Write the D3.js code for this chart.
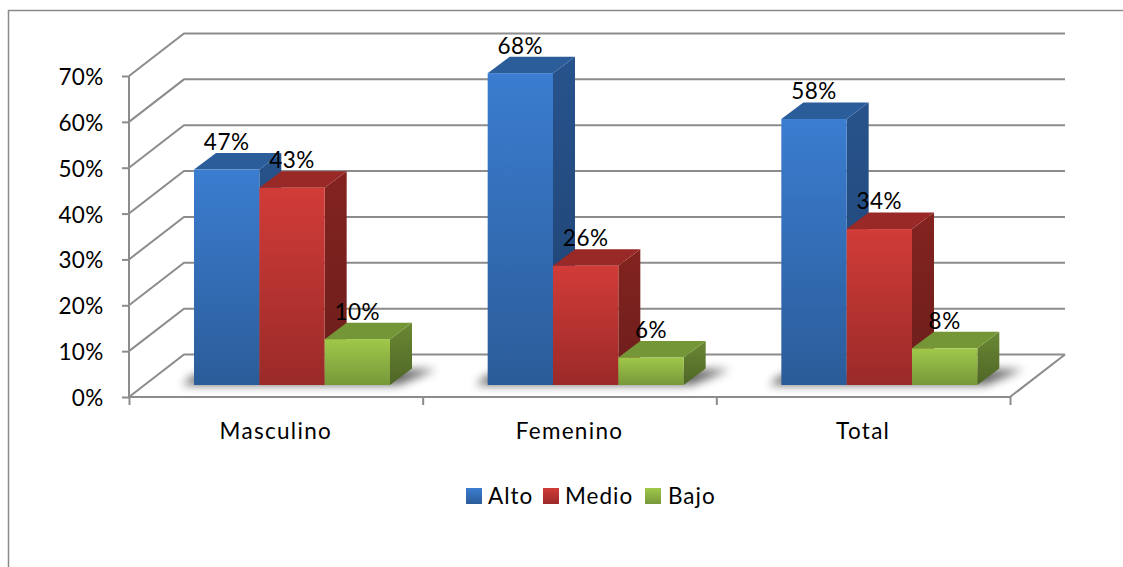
<!DOCTYPE html>
<html><head><meta charset="utf-8">
<script src="https://cdn.jsdelivr.net/npm/d3@7/dist/d3.min.js"></script>
<style>html,body{margin:0;padding:0;background:#fff}svg{display:block}text{font-family:Lato,"Open Sans",sans-serif;fill:#000}</style>
</head><body><svg id="c" width="1123" height="567"></svg>
<script>
const categories = ["Masculino","Femenino","Total"];
const seriesNames = ["Alto","Medio","Bajo"];
const alto = [47,68,58];
const medio = [43,26,34];
const bajo = [10,6,8];
const yTicks = [0,10,20,30,40,50,60,70];

const W=1123,H=567;
const svg=d3.select("#c");
const FS=22.5;
const grid="#8c8c8c";
const defs=svg.append("defs");
const palette=[
 {front:["#3b7dd0","#2b5c99"],top:"#2c5d9b",side:["#27538c","#1f4271"]},
 {front:["#d13c38","#9a2a28"],top:"#982927",side:["#83231f","#6b1e1c"]},
 {front:["#9fc84a","#78983a"],top:"#759637",side:["#6a8833","#4f6626"]}
];
function grad(id,c){const g=defs.append("linearGradient").attr("id",id).attr("x1",0).attr("y1",0).attr("x2",0).attr("y2",1);
 g.append("stop").attr("offset","0").attr("stop-color",c[0]);g.append("stop").attr("offset","1").attr("stop-color",c[1]);}
palette.forEach((p,i)=>{grad("f"+i,p.front);grad("s"+i,p.side);});
defs.append("filter").attr("id","blur").attr("x","-20%").attr("y","-100%").attr("width","140%").attr("height","300%")
 .append("feGaussianBlur").attr("stdDeviation",5);

// frame
svg.append("path").attr("d",`M8.5,${H} V10.5 H${W}`).attr("fill","none").attr("stroke","#8a8a8a").attr("stroke-width",1.5);

const x0=d3.scaleBand().domain(categories).range([129,1010]);
const y=d3.scaleLinear().domain([0,70]).range([397,76]);
const backDx=55,backDy=-42.5;

// walls
const gridG=svg.append("g").attr("fill","none").attr("stroke",grid).attr("stroke-width",2);
yTicks.forEach(t=>{
 const yy=y(t);
 gridG.append("path").attr("d",`M129,${yy} L${129+backDx},${yy+backDy} H${1010+backDx}`);
});
gridG.append("path").attr("d",`M1010,397 L${1010+backDx},${397+backDy}`);

// axes
const ay=svg.append("g").attr("transform","translate(129,0)").call(d3.axisLeft(y).tickValues(yTicks).tickSize(7).tickFormat(d=>d+"%").tickPadding(18.5));
const ax=svg.append("g").attr("transform","translate(0,397)").call(
  d3.axisBottom(d3.scaleLinear().domain([0,3]).range([129,1010])).tickValues([0,1,2,3]).tickSize(8).tickFormat(""));
[ay,ax].forEach(a=>{a.selectAll("path.domain,line").attr("stroke",grid).attr("stroke-width",2);});
ay.select("path.domain").attr("d","M0,76V397");
ax.select("path.domain").attr("d","M129,0H1010");
ay.selectAll("text").attr("font-size",FS).attr("dy","0.38em").style("font-family","Lato").style("letter-spacing","0.3px");
ax.selectAll("text").remove();

// category labels
svg.append("g").selectAll("text").data(categories).join("text")
 .attr("x",d=>x0(d)+x0.bandwidth()/2).attr("y",431).attr("dy","0.35em").attr("text-anchor","middle").attr("font-size",FS)
 .style("letter-spacing","1.3px").text(d=>d);

// bars
const barBase=385, pct=(y(0)-y(70))/70;
const barH=v=>v*pct;
const inner=d3.scaleBand().domain(seriesNames).range([65,261]);
const dx=22,dy=-16.5;
const series=[alto,medio,bajo];

categories.forEach((c,ci)=>{
 const g=svg.append("g");
 const left=x0(c)+inner(seriesNames[0]), right=x0(c)+inner(seriesNames[2])+inner.bandwidth();
 // floor shadow
 g.append("path").attr("d",`M${left-12},${barBase} H${right+8} L${right+dx+24},${barBase+dy+1} H${right} V${barBase-10} H${left} Z`)
  .attr("fill","#000").attr("opacity",0.6).attr("filter","url(#blur)");
 seriesNames.forEach((s,si)=>{
  const v=series[si][ci], X=x0(c)+inner(s), w=inner.bandwidth(), h=barH(v), T=barBase-h;
  const b=g.append("g");
  b.append("path").attr("d",`M${X+w},${T} l${dx},${dy} V${barBase+dy} L${X+w},${barBase} Z`).attr("fill",`url(#s${si})`);
  b.append("path").attr("d",`M${X},${T} l${dx},${dy} h${w} l${-dx},${-dy} Z`).attr("fill",palette[si].top);
  b.append("rect").attr("x",X).attr("y",T).attr("width",w).attr("height",h).attr("fill",`url(#f${si})`);
 });
});
// data labels
categories.forEach((c,ci)=>{
 seriesNames.forEach((s,si)=>{
  const v=series[si][ci];
  svg.append("text").attr("x",x0(c)+inner(s)+inner.bandwidth()/2).attr("y",barBase-barH(v)-27.5).attr("dy","0.35em")
   .attr("text-anchor","middle").attr("font-size",FS).style("letter-spacing","0.5px").text(v+"%");
 });
});

// legend
const legX=[466,543,645];
const legTextX=[488,565,668];
const lg=svg.append("g");
seriesNames.forEach((s,i)=>{
 lg.append("rect").attr("x",legX[i]).attr("y",488).attr("width",16).attr("height",16).attr("fill",`url(#f${i})`);
 lg.append("text").attr("x",legTextX[i]).attr("y",496).attr("dy","0.35em").attr("font-size",FS).style("letter-spacing","1px").text(s);
});
</script></body></html>
